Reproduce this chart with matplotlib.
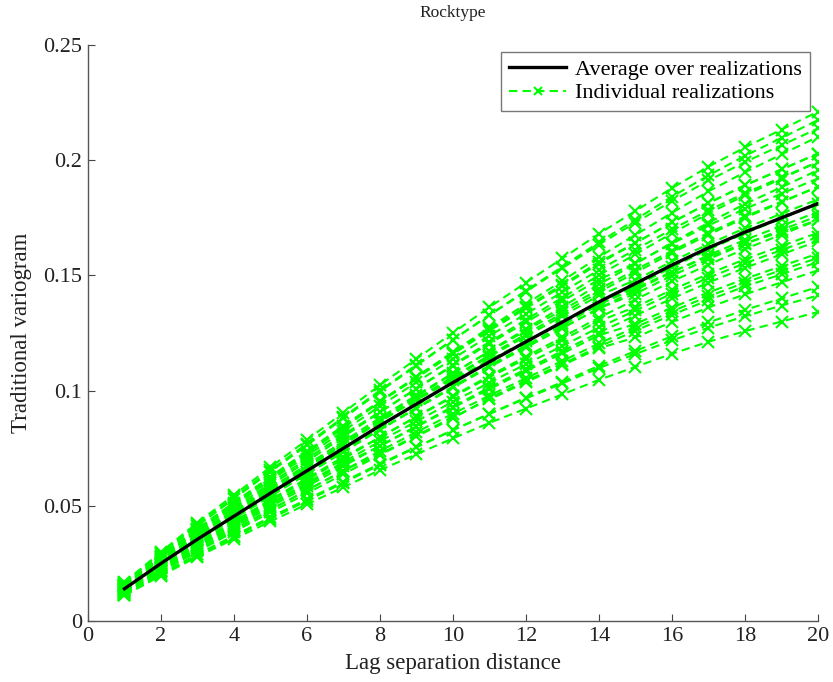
import matplotlib
matplotlib.use("Agg")
import matplotlib.pyplot as plt

plt.rcParams['font.family'] = ['Liberation Serif', 'DejaVu Serif']

lags = list(range(1, 21))

average = [0.0140, 0.0250, 0.0355, 0.0455, 0.0555, 0.0652, 0.0750, 0.0848, 0.0942, 0.1035,
           0.1125, 0.1212, 0.1298, 0.1385, 0.1465, 0.1545, 0.1620, 0.1688, 0.1750, 0.1812]

real_01 = [0.0168, 0.0300, 0.0427, 0.0547, 0.0668, 0.0786, 0.0905, 0.1024, 0.1138, 0.1251,
           0.1362, 0.1469, 0.1574, 0.1681, 0.1780, 0.1879, 0.1972, 0.2056, 0.2133, 0.2211]
real_02 = [0.0162, 0.0291, 0.0413, 0.0531, 0.0648, 0.0763, 0.0880, 0.0996, 0.1109, 0.1220,
           0.1329, 0.1434, 0.1538, 0.1644, 0.1742, 0.1842, 0.1934, 0.2019, 0.2097, 0.2174]
real_03 = [0.0158, 0.0283, 0.0401, 0.0514, 0.0627, 0.0737, 0.0848, 0.0954, 0.1060, 0.1164,
           0.1266, 0.1364, 0.1460, 0.1558, 0.1641, 0.1730, 0.1814, 0.1891, 0.1960, 0.2029]
real_04 = [0.0154, 0.0276, 0.0393, 0.0505, 0.0618, 0.0728, 0.0839, 0.0952, 0.1060, 0.1168,
           0.1274, 0.1376, 0.1477, 0.1580, 0.1676, 0.1772, 0.1865, 0.1948, 0.2025, 0.2102]
real_05 = [0.0151, 0.0270, 0.0383, 0.0491, 0.0599, 0.0704, 0.0810, 0.0907, 0.1008, 0.1108,
           0.1204, 0.1297, 0.1389, 0.1482, 0.1553, 0.1638, 0.1717, 0.1789, 0.1855, 0.1921]
real_06 = [0.0147, 0.0263, 0.0375, 0.0481, 0.0589, 0.0693, 0.0800, 0.0906, 0.1009, 0.1112,
           0.1211, 0.1308, 0.1404, 0.1501, 0.1592, 0.1683, 0.1769, 0.1848, 0.1920, 0.1993]
real_07 = [0.0144, 0.0258, 0.0366, 0.0469, 0.0572, 0.0672, 0.0773, 0.0865, 0.0961, 0.1056,
           0.1148, 0.1236, 0.1324, 0.1413, 0.1480, 0.1561, 0.1636, 0.1705, 0.1768, 0.1830]
real_08 = [0.0141, 0.0253, 0.0360, 0.0462, 0.0564, 0.0664, 0.0764, 0.0866, 0.0964, 0.1060,
           0.1154, 0.1245, 0.1336, 0.1428, 0.1512, 0.1598, 0.1677, 0.1750, 0.1817, 0.1885]
real_09 = [0.0139, 0.0248, 0.0351, 0.0451, 0.0550, 0.0646, 0.0743, 0.0831, 0.0923, 0.1014,
           0.1103, 0.1188, 0.1272, 0.1357, 0.1421, 0.1499, 0.1571, 0.1637, 0.1698, 0.1758]
real_10 = [0.0136, 0.0243, 0.0345, 0.0444, 0.0542, 0.0638, 0.0734, 0.0832, 0.0926, 0.1018,
           0.1109, 0.1196, 0.1284, 0.1373, 0.1453, 0.1536, 0.1612, 0.1683, 0.1747, 0.1812]
real_11 = [0.0133, 0.0238, 0.0337, 0.0432, 0.0527, 0.0619, 0.0713, 0.0797, 0.0886, 0.0973,
           0.1058, 0.1139, 0.1220, 0.1302, 0.1363, 0.1437, 0.1507, 0.1570, 0.1628, 0.1685]
real_12 = [0.0130, 0.0233, 0.0331, 0.0425, 0.0520, 0.0612, 0.0704, 0.0798, 0.0888, 0.0977,
           0.1064, 0.1148, 0.1232, 0.1317, 0.1395, 0.1474, 0.1547, 0.1615, 0.1677, 0.1740]
real_13 = [0.0127, 0.0228, 0.0323, 0.0414, 0.0505, 0.0593, 0.0683, 0.0759, 0.0843, 0.0926,
           0.1007, 0.1085, 0.1162, 0.1240, 0.1289, 0.1360, 0.1426, 0.1485, 0.1540, 0.1595]
real_14 = [0.0125, 0.0223, 0.0317, 0.0406, 0.0496, 0.0584, 0.0672, 0.0761, 0.0846, 0.0931,
           0.1014, 0.1093, 0.1172, 0.1252, 0.1326, 0.1400, 0.1469, 0.1533, 0.1591, 0.1649]
real_15 = [0.0122, 0.0218, 0.0309, 0.0396, 0.0483, 0.0567, 0.0653, 0.0725, 0.0805, 0.0885,
           0.0962, 0.1036, 0.1110, 0.1184, 0.1231, 0.1298, 0.1361, 0.1418, 0.1470, 0.1522]
real_16 = [0.0119, 0.0213, 0.0302, 0.0387, 0.0472, 0.0554, 0.0638, 0.0721, 0.0801, 0.0880,
           0.0968, 0.1042, 0.1116, 0.1191, 0.1260, 0.1329, 0.1393, 0.1452, 0.1505, 0.1558]
real_17 = [0.0115, 0.0205, 0.0290, 0.0370, 0.0451, 0.0528, 0.0605, 0.0683, 0.0756, 0.0829,
           0.0899, 0.0966, 0.1032, 0.1098, 0.1159, 0.1218, 0.1273, 0.1323, 0.1369, 0.1413]
real_18 = [0.0111, 0.0197, 0.0279, 0.0356, 0.0432, 0.0507, 0.0581, 0.0655, 0.0724, 0.0793,
           0.0860, 0.0922, 0.0984, 0.1047, 0.1103, 0.1160, 0.1212, 0.1258, 0.1300, 0.1341]
real_19 = [0.0140, 0.0251, 0.0358, 0.0461, 0.0564, 0.0666, 0.0769, 0.0873, 0.0974, 0.1074,
           0.1172, 0.1268, 0.1364, 0.1461, 0.1551, 0.1642, 0.1729, 0.1810, 0.1883, 0.1957]
real_20 = [0.0148, 0.0264, 0.0372, 0.0475, 0.0577, 0.0674, 0.0771, 0.0868, 0.0959, 0.1048,
           0.1133, 0.1214, 0.1294, 0.1374, 0.1444, 0.1516, 0.1581, 0.1639, 0.1689, 0.1740]
real_21 = [0.0165, 0.0295, 0.0419, 0.0537, 0.0655, 0.0769, 0.0885, 0.1001, 0.1112, 0.1221,
           0.1328, 0.1430, 0.1532, 0.1634, 0.1729, 0.1823, 0.1912, 0.1992, 0.2065, 0.2138]
real_22 = [0.0157, 0.0280, 0.0398, 0.0510, 0.0622, 0.0730, 0.0840, 0.0950, 0.1055, 0.1159,
           0.1260, 0.1357, 0.1454, 0.1551, 0.1641, 0.1730, 0.1814, 0.1891, 0.1960, 0.2029]
real_23 = [0.0146, 0.0260, 0.0369, 0.0473, 0.0577, 0.0678, 0.0780, 0.0882, 0.0980, 0.1076,
           0.1170, 0.1261, 0.1350, 0.1440, 0.1524, 0.1607, 0.1685, 0.1756, 0.1820, 0.1885]
real_24 = [0.0137, 0.0245, 0.0348, 0.0446, 0.0544, 0.0639, 0.0735, 0.0831, 0.0923, 0.1014,
           0.1103, 0.1188, 0.1272, 0.1357, 0.1436, 0.1514, 0.1588, 0.1654, 0.1715, 0.1776]
real_25 = [0.0129, 0.0230, 0.0327, 0.0419, 0.0511, 0.0600, 0.0690, 0.0780, 0.0867, 0.0952,
           0.1035, 0.1115, 0.1194, 0.1274, 0.1348, 0.1421, 0.1490, 0.1553, 0.1610, 0.1667]
real_26 = [0.0122, 0.0218, 0.0309, 0.0396, 0.0483, 0.0567, 0.0653, 0.0738, 0.0820, 0.0900,
           0.0979, 0.1054, 0.1129, 0.1205, 0.1275, 0.1344, 0.1409, 0.1469, 0.1523, 0.1576]
real_27 = [0.0112, 0.0200, 0.0284, 0.0364, 0.0444, 0.0522, 0.0600, 0.0678, 0.0754, 0.0828,
           0.0900, 0.0970, 0.1038, 0.1108, 0.1172, 0.1236, 0.1296, 0.1350, 0.1400, 0.1450]
real_28 = [0.0154, 0.0275, 0.0391, 0.0501, 0.0611, 0.0717, 0.0825, 0.0933, 0.1036, 0.1139,
           0.1238, 0.1333, 0.1428, 0.1524, 0.1612, 0.1700, 0.1782, 0.1857, 0.1925, 0.1993]

realizations = [real_01, real_02, real_03, real_04, real_05, real_06, real_07, real_08,
                real_09, real_10, real_11, real_12, real_13, real_14, real_15, real_16,
                real_17, real_18, real_19, real_20, real_21, real_22, real_23, real_24,
                real_25, real_26, real_27, real_28]

x_ticks = [0, 2, 4, 6, 8, 10, 12, 14, 16, 18, 20]
y_ticks = [0, 0.05, 0.1, 0.15, 0.2, 0.25]
y_tick_labels = ['0', '0.05', '0.1', '0.15', '0.2', '0.25']

fig = plt.figure(figsize=(8.33, 6.82), dpi=100)
ax = fig.add_axes([0.1056, 0.0894, 0.8764, 0.8446])

green = (0.0, 1.0, 0.0)
for i, r in enumerate(realizations):
    ax.plot(lags, r, color=green, linestyle=(0, (4, 2.5)), linewidth=1.5,
            marker='x', markersize=8, markeredgewidth=1.5,
            label='Individual realizations' if i == 0 else None, zorder=2)

ax.plot(lags, average, color='black', linewidth=2.4,
        label='Average over realizations', zorder=3)

ax.set_xlim(0, 20)
ax.set_ylim(0, 0.25)
ax.set_xticks(x_ticks)
ax.set_yticks(y_ticks)
ax.set_yticklabels(y_tick_labels)

for side in ('top', 'right'):
    ax.spines[side].set_visible(False)
for side in ('left', 'bottom'):
    ax.spines[side].set_color('#555555')
    ax.spines[side].set_linewidth(1.0)

ax.tick_params(direction='in', length=5, width=0.8, colors='#444444',
               labelcolor='#222222', labelsize=16, pad=4)

ax.set_title('Rocktype', fontsize=12.5, color='#222222', pad=20)
ax.set_xlabel('Lag separation distance', fontsize=16.5, color='#222222', labelpad=5)
ax.set_ylabel('Traditional variogram', fontsize=16.5, color='#222222', labelpad=8)

handles, labels = ax.get_legend_handles_labels()
order = [labels.index('Average over realizations'), labels.index('Individual realizations')]
leg = ax.legend([handles[k] for k in order], [labels[k] for k in order],
                loc='upper right', bbox_to_anchor=(0.989, 0.988), borderaxespad=0,
                fontsize=16, frameon=True, fancybox=False, edgecolor='#555555',
                handlelength=2.6, handletextpad=0.4, borderpad=0.35, labelspacing=0.12)
leg.get_frame().set_linewidth(1.0)
for h in leg.get_lines():
    if h.get_color() != 'black':
        h.set_markersize(6)

fig.savefig('out.png', dpi=100, facecolor='white')
